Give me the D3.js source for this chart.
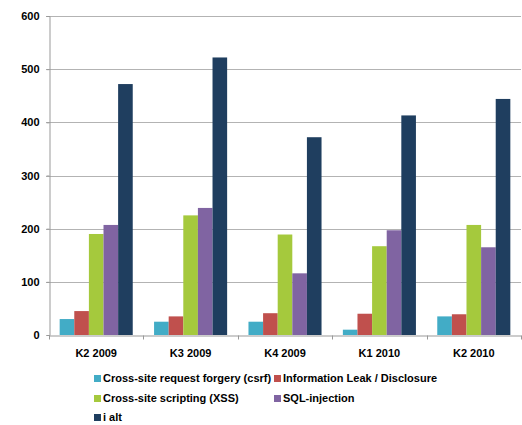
<!DOCTYPE html>
<html>
<head>
<meta charset="utf-8">
<script src="https://cdn.jsdelivr.net/npm/d3@7"></script>
<style>
  body { margin: 0; background: #fff; }
  text { font-family: "Liberation Sans", Arial, sans-serif; font-weight: bold; fill: #000; }
</style>
</head>
<body>
<div id="chart"></div>
<script>
const quarters = ["K2 2009", "K3 2009", "K4 2009", "K1 2010", "K2 2010"];
const seriesNames = [
  "Cross-site request forgery (csrf)",
  "Information Leak / Disclosure",
  "Cross-site scripting (XSS)",
  "SQL-injection",
  "i alt"
];
const csrf = [30, 25, 25, 10, 35];
const infoLeak = [45, 35, 41, 40, 39];
const xss = [190, 225, 189, 167, 207];
const sqlInjection = [207, 239, 116, 197, 165];
const total = [472, 522, 372, 413, 444];
const yTicks = [0, 100, 200, 300, 400, 500, 600];
const colors = ["#42acc6", "#c0504d", "#a5c93d", "#8064a2", "#1f3e5f"];

const allSeries = [csrf, infoLeak, xss, sqlInjection, total];

const width = 522, height = 425;
const margin = { top: 16, right: 1, bottom: 90, left: 49 };

const svg = d3
  .select("#chart")
  .append("svg")
  .attr("width", width)
  .attr("height", height);

const x = d3
  .scaleBand()
  .domain(quarters)
  .range([margin.left, width - margin.right]);

const inner = d3
  .scaleBand()
  .domain(d3.range(seriesNames.length))
  .range([0, x.bandwidth()])
  .paddingOuter(0.73)
  .paddingInner(0);

const y = d3
  .scaleLinear()
  .domain([0, 600])
  .range([height - margin.bottom, margin.top]);

// gridlines
svg
  .append("g")
  .selectAll("line")
  .data(yTicks.slice(1))
  .enter()
  .append("line")
  .attr("x1", margin.left - 3)
  .attr("x2", width - margin.right)
  .attr("y1", (d) => Math.round(y(d)) + 0.5)
  .attr("y2", (d) => Math.round(y(d)) + 0.5)
  .attr("stroke", "#b3b3b3")
  .attr("stroke-width", 1);

// bars
const groups = svg
  .selectAll("g.quarter")
  .data(quarters)
  .enter()
  .append("g")
  .attr("class", "quarter")
  .attr("transform", (d) => `translate(${x(d)},0)`);

groups
  .selectAll("rect")
  .data((q, qi) => allSeries.map((s, si) => ({ si, v: s[qi] })))
  .enter()
  .append("rect")
  .attr("x", (d) => inner(d.si))
  .attr("width", inner.bandwidth())
  .attr("y", (d) => y(d.v))
  .attr("height", (d) => y(0) - y(d.v))
  .attr("fill", (d) => colors[d.si]);

// y axis
const yAxis = svg
  .append("g")
  .attr("transform", `translate(${margin.left + 0.5},0)`)
  .call(d3.axisLeft(y).tickValues(yTicks).tickSize(3).tickPadding(7));
yAxis.select(".domain").attr("stroke", "#999");
yAxis.selectAll(".tick line").attr("stroke", "#999");
yAxis.selectAll("text").attr("font-size", "11px");

// x axis
const xAxis = svg
  .append("g")
  .attr("transform", `translate(0,${Math.round(y(0)) + 0.5})`)
  .call(d3.axisBottom(x).tickSize(0).tickPadding(14));
xAxis.select(".domain").attr("stroke", "#999");
xAxis.selectAll("text").attr("font-size", "11px");

xAxis
  .selectAll("line.sep")
  .data(quarters.concat(["end"]))
  .enter()
  .append("line")
  .attr("class", "sep")
  .attr("x1", (d, i) => Math.round(margin.left + i * x.bandwidth()) + 0.5)
  .attr("x2", (d, i) => Math.round(margin.left + i * x.bandwidth()) + 0.5)
  .attr("y1", 0)
  .attr("y2", 4)
  .attr("stroke", "#999");

// legend
const legendPos = [
  [94, 382], [274, 382],
  [94, 402], [274, 402],
  [94, 421]
];

const legend = svg.append("g");
legend
  .selectAll("g")
  .data(seriesNames)
  .enter()
  .append("g")
  .attr("transform", (d, i) => `translate(${legendPos[i][0]},${legendPos[i][1]})`)
  .each(function (d, i) {
    d3.select(this)
      .append("rect")
      .attr("x", 0)
      .attr("y", -7)
      .attr("width", 7)
      .attr("height", 7)
      .attr("fill", colors[i]);
    d3.select(this)
      .append("text")
      .attr("x", 9)
      .attr("y", 0)
      .attr("font-size", "11px")
      .text(d);
  });
</script>
</body>
</html>
